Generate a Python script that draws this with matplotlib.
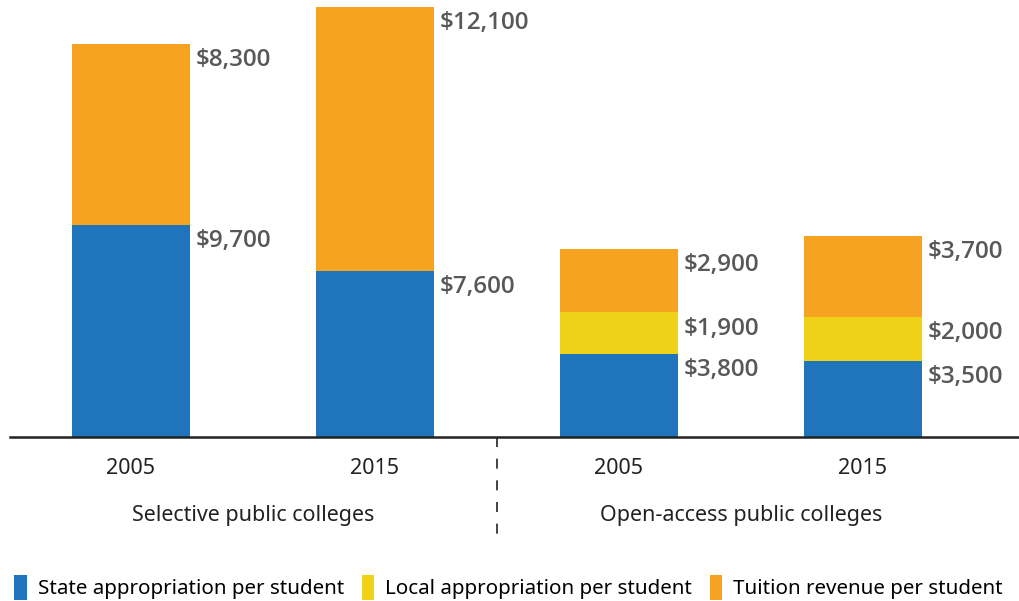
import numpy as np
import matplotlib
matplotlib.use("Agg")
import matplotlib.pyplot as plt
from matplotlib.patches import Patch
from matplotlib.lines import Line2D

years = ["2005", "2015", "2005", "2015"]
groups = ["Selective public colleges", "Open-access public colleges"]
state = [9700, 7600, 3800, 3500]
local = [0, 0, 1900, 2000]
tuition = [8300, 12100, 2900, 3700]
series_names = ["State appropriation per student", "Local appropriation per student",
                "Tuition revenue per student"]
colors = ["#1f74bb", "#efd118", "#f7a322"]

plt.rcParams['font.family'] = ['Noto Sans', 'DejaVu Sans']

fig = plt.figure(figsize=(10.19, 6.01), dpi=100)
ax = fig.add_axes([10 / 1019, 1 - 437 / 601, 1 - 10 / 1019, 437 / 601])

x = np.arange(len(years))
w = 0.484
state = np.array(state)
local = np.array(local)
tuition = np.array(tuition)
ax.bar(x, state, w, color=colors[0])
ax.bar(x, local, w, bottom=state, color=colors[1])
ax.bar(x, tuition, w, bottom=state + local, color=colors[2])

ax.set_xlim(-0.496, 3.64)
ax.set_ylim(0, 20000)
for s in ["top", "right", "left"]:
    ax.spines[s].set_visible(False)
ax.spines["bottom"].set_linewidth(1.8)
ax.spines["bottom"].set_color("#222222")
ax.set_yticks([])
ax.set_xticks(x)
ax.set_xticklabels(years, fontsize=15.5, color="#222222")
ax.tick_params(axis="x", length=0, pad=15)

# value labels beside each segment
lab_kw = dict(fontsize=17.5, fontweight="semibold", color="#585858", va="top", ha="left",
              family=["Open Sans", "DejaVu Sans"])
for i in range(len(x)):
    xr = x[i] + w / 2 + 0.025
    tops = [state[i], state[i] + local[i], state[i] + local[i] + tuition[i]]
    vals = [state[i], local[i], tuition[i]]
    for top, v in zip(tops, vals):
        if v == 0:
            continue
        ax.annotate(f"${v:,}", (xr, top), xytext=(0, -3), textcoords="offset points",
                    **lab_kw)

# group labels and divider
for gx, g in zip([0.5, 2.5], groups):
    ax.text(gx, -0.18, g, transform=ax.get_xaxis_transform(), ha="center", va="center",
            fontsize=15.5, color="#222222")
ax.add_line(Line2D([1.5, 1.5], [0, -0.24], transform=ax.get_xaxis_transform(),
                   color="#222222", lw=1.2, ls=(0, (6, 7)), clip_on=False))

handles = [Patch(facecolor=c) for c in colors]
fig.legend(handles, series_names, loc="lower left", bbox_to_anchor=(0.0, -0.022), ncol=3,
           frameon=False, fontsize=14.8, handlelength=0.6, handleheight=1.5,
           handletextpad=0.55, columnspacing=0.85, borderaxespad=0.3)

fig.savefig("out.png", dpi=100)
